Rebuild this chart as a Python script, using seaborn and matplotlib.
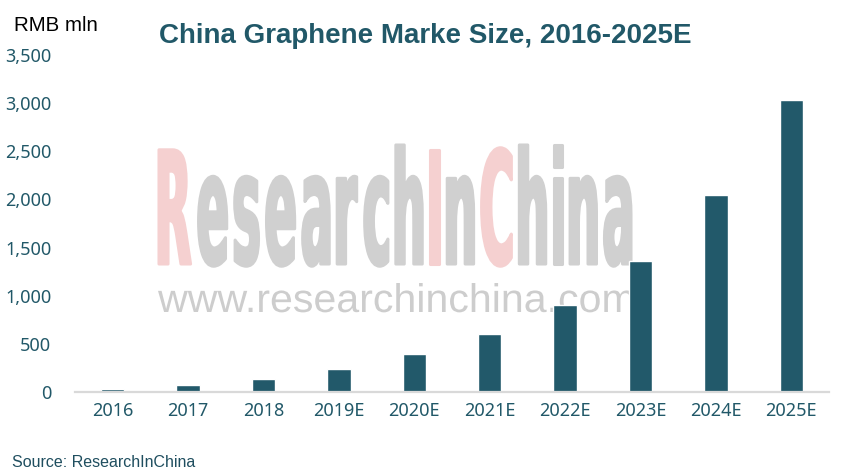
import numpy as np
import pandas as pd
import matplotlib
matplotlib.use("Agg")
import matplotlib.pyplot as plt
import seaborn as sns
from matplotlib.textpath import TextPath
from matplotlib.patches import PathPatch
from matplotlib.font_manager import FontProperties
from matplotlib.transforms import Affine2D, IdentityTransform
from matplotlib.ticker import FuncFormatter

years = ["2016", "2017", "2018", "2019E", "2020E", "2021E", "2022E", "2023E", "2024E", "2025E"]
market_size = [35, 75, 138, 242, 398, 603, 904, 1360, 2046, 3032]
y_ticks = [0, 500, 1000, 1500, 2000, 2500, 3000, 3500]

title = "China Graphene Marke Size, 2016-2025E"
unit_label = "RMB mln"
source = "Source: ResearchInChina"

W, H = 843, 475
BAR = "#22596A"
TXT = "#215868"

sns.set_theme(style="white")
plt.rcParams["font.family"] = ["Noto Sans", "DejaVu Sans"]

fig = plt.figure(figsize=(W / 100, H / 100), dpi=100)
ax = fig.add_axes([75 / W, 1 - 392 / H, (829 - 75) / W, (392 - 55) / H])
ax.set_facecolor("none")

df = pd.DataFrame({"year": years, "value": market_size})
sns.barplot(data=df, x="year", y="value", color=BAR, saturation=1, width=0.31, ax=ax, zorder=2)

ax.set_xlim(-0.5, len(years) - 0.5)
ax.set_ylim(0, 3500)
ax.set_yticks(y_ticks)
ax.yaxis.set_major_formatter(FuncFormatter(lambda v, p: f"{int(v):,}"))
ax.set_xlabel("")
ax.set_ylabel("")
for s in ["top", "right", "left"]:
    ax.spines[s].set_visible(False)
ax.spines["bottom"].set_color("#D9D9D9")
ax.spines["bottom"].set_linewidth(1.6)
ax.spines["bottom"].set_zorder(3)
ax.tick_params(axis="both", length=0, labelsize=13, labelcolor=TXT)
ax.tick_params(axis="y", pad=17)
ax.tick_params(axis="x", pad=7)
ax.grid(False)


# watermark (drawn behind the bars)
def fit_chars(segments, box, prop, gap, stroke, z=0.5):
    x0, x1, ytop, ybot = box  # image pixel coords (y from top)
    chars = []
    for txt, col in segments:
        for ch in txt:
            tp = TextPath((0, 0), ch, prop=prop, size=100)
            chars.append((tp, tp.get_extents(), col))
    sumw = sum(e.width for _, e, _ in chars)
    maxh = max(e.y1 for _, e, _ in chars)
    sx = (x1 - x0 - gap * (len(chars) - 1)) / sumw
    sy = (ybot - ytop) / maxh
    cx = x0
    for tp, e, col in chars:
        tr = Affine2D().translate(-e.x0, 0).scale(sx, sy).translate(cx, H - ybot)
        p = tr.transform_path(tp)
        patch = PathPatch(p, facecolor=col, edgecolor=col, linewidth=stroke,
                          joinstyle="round", transform=IdentityTransform(),
                          zorder=z, clip_on=False)
        ax.add_artist(patch)
        cx += e.width * sx + gap


pink = "#F5D0D0"
grey = "#D0D0D0"
fit_chars([("R", pink), ("esearch", grey), ("I", pink), ("n", grey), ("C", pink), ("hina", grey)],
          (159, 631, 145, 264), FontProperties(family="DejaVu Sans", weight="bold"), 8, 2.2)

tp = TextPath((0, 0), "www.researchinchina.com", prop=FontProperties(family="Liberation Sans"), size=100)
e = tp.get_extents()
sx = (633 - 158) / e.width
sy = (312 - 283) / e.y1
p = Affine2D().translate(-e.x0, 0).scale(sx, sy).translate(158, H - 312).transform_path(tp)
ax.add_artist(PathPatch(p, facecolor="#CDCDCD", edgecolor="none", transform=IdentityTransform(),
                        zorder=0.5, clip_on=False))

fig.text(425 / W, 1 - 43 / H, title, ha="center", va="baseline", fontsize=20, fontweight="bold",
         color=TXT, family="Liberation Sans")
fig.text(14 / W, 1 - 31 / H, unit_label, ha="left", va="baseline", fontsize=14.8, color="black",
         family="Liberation Sans")
fig.text(12 / W, 1 - 467 / H, source, ha="left", va="baseline", fontsize=11.5, color="#1F4E5F",
         family="Liberation Sans")

fig.savefig("out.png", dpi=100)
